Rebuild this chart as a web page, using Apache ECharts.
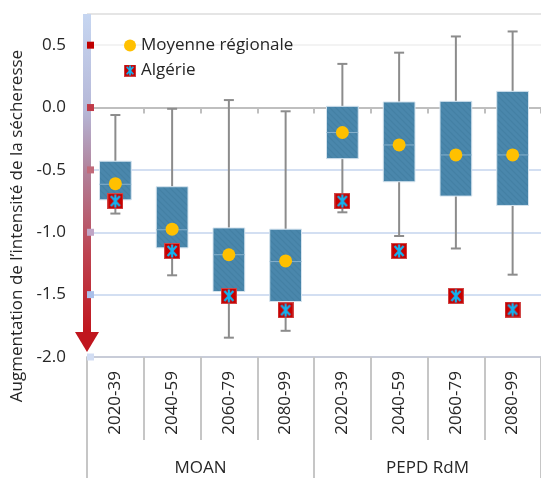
<!DOCTYPE html>
<html>
<head>
<meta charset="utf-8">
<style>
html, body { margin: 0; padding: 0; background: #fff; }
#chart { width: 541px; height: 478px; }
</style>
<script src="https://cdn.jsdelivr.net/npm/echarts@6/dist/echarts.min.js"></script>
</head>
<body>
<div id="chart"></div>
<script>
// categories
const periods = ['2020-39', '2040-59', '2060-79', '2080-99', '2020-39', '2040-59', '2060-79', '2080-99']
const groups = ['MOAN', 'PEPD RdM']

// box plot values
const whiskerHigh = [-0.06, -0.01, 0.06, -0.03, 0.35, 0.44, 0.57, 0.61]
const boxTop = [-0.43, -0.635, -0.965, -0.975, 0.01, 0.045, 0.05, 0.13]
const medians = [-0.615, -0.98, -1.18, -1.235, -0.2, -0.3, -0.38, -0.38]
const boxBottom = [-0.74, -1.125, -1.475, -1.555, -0.41, -0.595, -0.71, -0.785]
const whiskerLow = [-0.85, -1.345, -1.845, -1.79, -0.84, -1.03, -1.13, -1.34]

// point series
const means = [-0.61, -0.975, -1.18, -1.23, -0.2, -0.3, -0.38, -0.38]
const algerie = [-0.75, -1.15, -1.51, -1.625, -0.75, -1.15, -1.51, -1.62]

// y axis ticks
const yTicks = [-2.0, -1.5, -1.0, -0.5, 0.0, 0.5]
const tickColors = ['#d2ddf3', '#aac0ea', '#c0a6c6', '#c26a7a', '#c03a48', '#c00000']

const FONT = '"Open Sans", "Noto Sans", sans-serif'
const TEXT = '#262626'
const gridLeft = 87

const makeHatch = () => {
	const c = document.createElement('canvas')
	c.width = 6
	c.height = 6
	const g = c.getContext('2d')
	g.fillStyle = '#4a87ac'
	g.fillRect(0, 0, 6, 6)
	g.strokeStyle = '#4480a4'
	g.lineWidth = 1.2
	g.beginPath()
	g.moveTo(0, 0)
	g.lineTo(6, 6)
	g.moveTo(-3, 3)
	g.lineTo(3, 9)
	g.moveTo(3, -3)
	g.lineTo(9, 3)
	g.stroke()
	return c
}

const makeAlgerieIcon = () => {
	const c = document.createElement('canvas')
	c.width = 32
	c.height = 32
	const g = c.getContext('2d')
	g.fillStyle = '#d04848'
	g.fillRect(0, 0, 32, 32)
	g.fillStyle = '#c80000'
	g.fillRect(2, 2, 28, 28)
	g.strokeStyle = '#12b2f0'
	g.lineWidth = 4.5
	g.beginPath()
	g.moveTo(7, 6)
	g.lineTo(25, 26)
	g.moveTo(25, 6)
	g.lineTo(7, 26)
	g.moveTo(16, 3)
	g.lineTo(16, 29)
	g.stroke()
	return 'image://' + c.toDataURL()
}

const hatch = makeHatch()
const chart = echarts.init(document.getElementById('chart'))

const boxData = periods.map((_, i) => [i, whiskerLow[i], boxBottom[i], medians[i], boxTop[i], whiskerHigh[i]])

const renderBox = (params, api) => {
	const x = api.value(0)
	const lo = api.coord([x, api.value(1)])
	const q1 = api.coord([x, api.value(2)])
	const med = api.coord([x, api.value(3)])
	const q3 = api.coord([x, api.value(4)])
	const hi = api.coord([x, api.value(5)])
	const w = api.size([1, 0])[0] * 0.56
	const cx = lo[0]
	const cap = 5
	const whisker = { stroke: '#8c8c8c', lineWidth: 2 }
	return {
		type: 'group',
		children: [
			{ type: 'line', shape: { x1: cx, y1: hi[1], x2: cx, y2: q3[1] }, style: whisker },
			{ type: 'line', shape: { x1: cx, y1: q1[1], x2: cx, y2: lo[1] }, style: whisker },
			{ type: 'line', shape: { x1: cx - cap, y1: hi[1], x2: cx + cap, y2: hi[1] }, style: whisker },
			{ type: 'line', shape: { x1: cx - cap, y1: lo[1], x2: cx + cap, y2: lo[1] }, style: whisker },
			{
				type: 'rect',
				shape: { x: cx - w / 2, y: q3[1], width: w, height: q1[1] - q3[1] },
				style: { fill: { image: hatch, repeat: 'repeat' }, stroke: '#d6e4ef', lineWidth: 1 }
			},
			{
				type: 'line',
				shape: { x1: cx - w / 2, y1: med[1], x2: cx + w / 2, y2: med[1] },
				style: { stroke: '#86b0cb', lineWidth: 1 }
			}
		]
	}
}

chart.setOption({
	animation: false,
	textStyle: { fontFamily: FONT },
	grid: { left: gridLeft, right: -10, top: 14, bottom: 121, containLabel: false },
	legend: {
		orient: 'vertical',
		left: 119,
		top: 32,
		itemWidth: 12,
		itemHeight: 12,
		itemGap: 8,
		data: ['Moyenne régionale', 'Algérie'],
		textStyle: { fontSize: 17, color: TEXT, fontFamily: FONT }
	},
	xAxis: [
		{
			type: 'category',
			data: periods,
			position: 'bottom',
			axisLine: { onZero: false, lineStyle: { color: '#c8ccd8', width: 2 } },
			axisTick: { show: true, alignWithLabel: false, length: 83, interval: 0, lineStyle: { color: '#c6c6c6', width: 2 } },
			axisLabel: { rotate: 90, margin: 14, interval: 0, fontSize: 17, color: TEXT }
		},
		{
			type: 'category',
			data: groups,
			position: 'bottom',
			axisLine: { show: false, onZero: false },
			axisTick: { show: true, alignWithLabel: false, length: 121, interval: 0, lineStyle: { color: '#c6c6c6', width: 2 } },
			axisLabel: { margin: 103, fontSize: 17, color: TEXT }
		},
		{
			type: 'category',
			data: periods,
			position: 'bottom',
			axisLine: { onZero: true, lineStyle: { color: '#bfbfbf', width: 2 } },
			axisTick: { show: true, alignWithLabel: false, length: 6, interval: 0, lineStyle: { color: '#bfbfbf', width: 2 } },
			axisLabel: { show: false }
		}
	],
	yAxis: {
		type: 'value',
		min: -2,
		max: 0.75,
		interval: 0.5,
		axisLine: { show: false },
		axisTick: { show: false },
		axisLabel: {
			showMaxLabel: false,
			margin: 21,
			fontSize: 17,
			color: TEXT,
			formatter: v => v.toFixed(1)
		},
		splitLine: {
			lineStyle: {
				color: ['#c8ccd8', '#c5d4ee', '#c5d4ee', '#c5d4ee', '#bfbfbf', '#efefef', '#dcdcdc'],
				width: 1.5
			}
		}
	},
	series: [
		{
			type: 'custom',
			name: 'box',
			renderItem: renderBox,
			encode: { x: 0, y: [1, 2, 3, 4, 5] },
			data: boxData,
			z: 2
		},
		{
			type: 'scatter',
			name: 'Moyenne régionale',
			symbol: 'circle',
			symbolSize: 13,
			itemStyle: { color: '#ffc000', opacity: 1 },
			data: means.map((v, i) => [i, v]),
			z: 3
		},
		{
			type: 'scatter',
			name: 'Algérie',
			symbol: makeAlgerieIcon(),
			symbolSize: 16,
			itemStyle: { opacity: 1 },
			data: algerie.map((v, i) => [i, v]),
			z: 4
		}
	]
})

// gradient arrow on the y axis and coloured tick squares
const py = v => chart.convertToPixel({ yAxisIndex: 0 }, v)
const arrowTop = py(0.75)
const headBase = py(-1.8)
const arrowTip = py(-1.96)
const ax = gridLeft

const graphics = [
	{
		type: 'rect',
		shape: { x: ax - 4, y: arrowTop, width: 8, height: headBase - arrowTop },
		style: {
			fill: new echarts.graphic.LinearGradient(0, 0, 0, 1, [
				{ offset: 0, color: '#c6d6f1' },
				{ offset: 0.3, color: '#b6b8d8' },
				{ offset: 0.5, color: '#b18099' },
				{ offset: 0.75, color: '#bd4452' },
				{ offset: 1, color: '#c0161e' }
			])
		},
		z: 5
	},
	{
		type: 'polygon',
		shape: { points: [[ax - 12, headBase], [ax + 12, headBase], [ax, arrowTip]] },
		style: { fill: '#c0161e' },
		z: 5
	},
	...yTicks.map((v, i) => ({
		type: 'rect',
		shape: { x: ax, y: py(v) - 3.5, width: 7, height: 7 },
		style: { fill: tickColors[i] },
		z: 6
	})),
	{
		type: 'text',
		x: 17,
		y: 226,
		rotation: Math.PI / 2,
		style: {
			text: 'Augmentation de l’intensité de la sécheresse',
			font: '17px ' + FONT,
			fill: TEXT,
			align: 'center',
			verticalAlign: 'middle'
		}
	}
]

chart.setOption({ graphic: graphics })
</script>
</body>
</html>
